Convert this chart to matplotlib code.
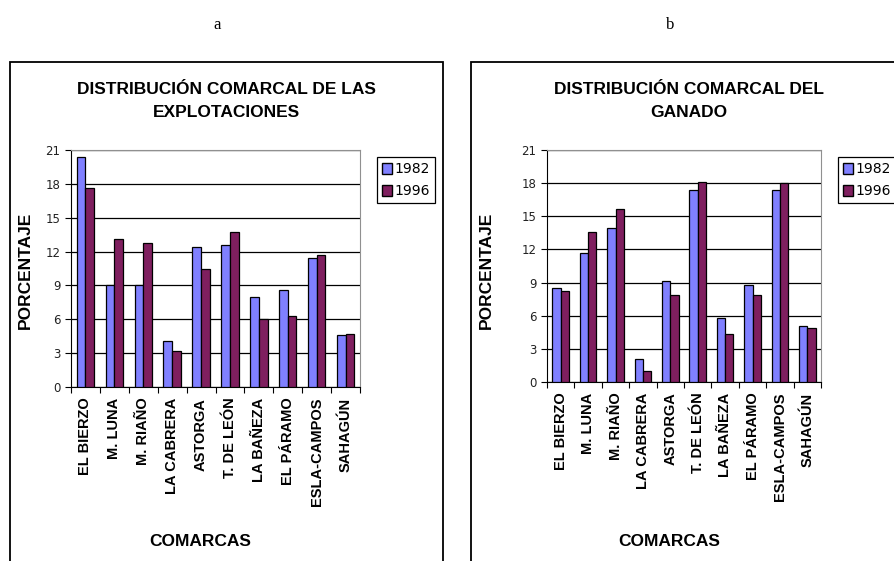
import numpy as np
import matplotlib
matplotlib.use("Agg")
import matplotlib.pyplot as plt
from matplotlib.patches import Rectangle, Patch

W, H = 894, 561

comarcas = ["EL BIERZO", "M. LUNA", "M. RIAÑO", "LA CABRERA", "ASTORGA",
            "T. DE LEÓN", "LA BAÑEZA", "EL PÁRAMO", "ESLA-CAMPOS", "SAHAGÚN"]
years = ["1982", "1996"]

# porcentaje de explotaciones por comarca
explot_1982 = [20.4, 9.0, 9.0, 4.1, 12.4, 12.6, 8.0, 8.6, 11.4, 4.6]
explot_1996 = [17.6, 13.1, 12.8, 3.2, 10.5, 13.7, 6.0, 6.3, 11.7, 4.7]

# porcentaje de ganado por comarca
ganado_1982 = [8.5, 11.7, 13.9, 2.1, 9.1, 17.4, 5.8, 8.8, 17.4, 5.1]
ganado_1996 = [8.2, 13.6, 15.7, 1.0, 7.9, 18.1, 4.3, 7.9, 18.0, 4.9]

yticks = [0, 3, 6, 9, 12, 15, 18, 21]

col_1982 = "#8080ff"
col_1996 = "#7f1f5f"


def px(x0, y0, x1, y1):
    # caja en pixeles (arriba-izquierda) -> coordenadas de figura
    return [x0 / W, 1 - y1 / H, (x1 - x0) / W, (y1 - y0) / H]


def panel(fig, box, ax_box, leg_box, title, letter, letter_x, v82, v96, title_x, ylab_x):
    # marco del grafico
    fig.patches.append(Rectangle((box[0] / W, 1 - box[3] / H), (box[2] - box[0]) / W,
                                 (box[3] - box[1]) / H, transform=fig.transFigure,
                                 fill=False, edgecolor="black", lw=1.3))
    fig.text(letter_x / W, 1 - 25 / H, letter, family="Liberation Serif", fontsize=12,
             ha="center", va="center")

    ax = fig.add_axes(px(*ax_box))
    x = np.arange(len(comarcas))
    w = 0.3
    ax.bar(x + 0.5 - w / 2, v82, w, color=col_1982, edgecolor="black", lw=0.9, zorder=3)
    ax.bar(x + 0.5 + w / 2, v96, w, color=col_1996, edgecolor="black", lw=0.9, zorder=3)
    ax.set_xlim(0, len(comarcas))
    ax.set_ylim(0, 21)
    ax.set_yticks(yticks)
    ax.set_yticklabels([str(t) for t in yticks], family="DejaVu Sans", fontsize=8.5,
                       color="#222222")
    ax.yaxis.grid(True, color="black", lw=0.9, zorder=0)
    ax.set_xticks(np.arange(len(comarcas) + 1))
    ax.set_xticklabels([])
    ax.tick_params(axis="both", direction="out", length=4, color="black")
    for i, c in enumerate(comarcas):
        ax.text(i + 0.5, -0.045, c, transform=ax.get_xaxis_transform(), rotation=90,
                ha="center", va="top", family="Liberation Sans", fontweight="bold",
                fontsize=10.5)
    for s in ["top", "right"]:
        ax.spines[s].set_color("#909090")
    for s in ["left", "bottom"]:
        ax.spines[s].set_color("black")

    fig.text(title_x / W, 1 - 101 / H, title, ha="center", va="center", family="Liberation Sans",
             fontweight="bold", fontsize=12.5, linespacing=1.65)
    fig.text(ylab_x / W, 1 - 270 / H, "PORCENTAJE", rotation=90, ha="center",
             va="center", family="Liberation Sans", fontweight="bold", fontsize=12.5)
    fig.text(((ax_box[0] + ax_box[2]) / 2 - 15) / W, 1 - 542 / H, "COMARCAS", ha="center",
             va="center", family="Liberation Sans", fontweight="bold", fontsize=12.5)

    handles = [Patch(facecolor=col_1982, edgecolor="black"),
               Patch(facecolor=col_1996, edgecolor="black")]
    leg = fig.legend(handles, years, loc="upper left",
                     bbox_to_anchor=(leg_box[0] / W, 1 - leg_box[1] / H),
                     prop={"family": "DejaVu Sans", "size": 10}, fancybox=False,
                     edgecolor="black", framealpha=1, borderaxespad=0, handlelength=0.75,
                     handleheight=0.85, handletextpad=0.15, borderpad=0.35, labelspacing=0.6)
    leg.get_frame().set_linewidth(0.9)


fig = plt.figure(figsize=(W / 100, H / 100), dpi=100)

panel(fig, (10, 62, 443, 570), (71, 150, 360, 387), (377, 157),
      "DISTRIBUCIÓN COMARCAL DE LAS\nEXPLOTACIONES", "a", 217, explot_1982, explot_1996, 226, 25)
panel(fig, (471, 62, 900, 570), (547, 150, 821, 382), (838, 157),
      "DISTRIBUCIÓN COMARCAL DEL\nGANADO", "b", 670, ganado_1982, ganado_1996, 689, 486)

fig.savefig("out.png", dpi=100)
